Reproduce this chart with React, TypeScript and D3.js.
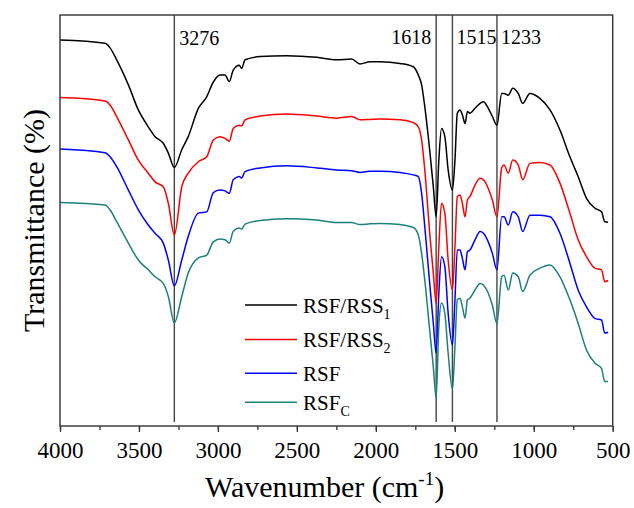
import React, { useRef, useEffect } from 'react'
import * as d3 from 'd3'

// wavenumber grid (cm-1) shared by all spectra
const wavenumbers = [
  4000, 3715, 3683, 3641, 3567, 3504, 3441, 3398, 3346, 3314, 3276, 3229, 3188, 3124, 3071,
  3029, 2987, 2955, 2928, 2903, 2865, 2850, 2828, 2733, 2564, 2374, 2248, 2153, 2100, 2037,
  1974, 1847, 1763, 1731, 1710, 1690, 1657, 1636, 1618, 1601, 1584, 1563, 1542, 1515, 1499,
  1484, 1467, 1452, 1435, 1420, 1404, 1372, 1340, 1319, 1288, 1262, 1233, 1203, 1188, 1161,
  1133, 1098, 1070, 1024, 961, 897, 834, 771, 719, 666, 613, 571, 550, 529,
]

// transmittance (arbitrary units, curves stacked)
const rsfRss1 = [
  93.9, 93.1, 92.0, 89.1, 83.0, 76.9, 72.8, 70.4, 68.8, 66.4, 62.9, 67.2, 70.4, 77.3, 80.1,
  83.7, 85.4, 85.4, 83.8, 86.6, 87.8, 87.0, 89.1, 89.9, 90.1, 89.7, 89.1, 89.3, 88.1, 88.6,
  88.6, 88.2, 87.4, 85.4, 83.0, 77.7, 66.4, 58.2, 50.9, 64.7, 72.4, 70.4, 62.3, 57.4, 64.7,
  76.1, 76.9, 75.7, 73.6, 76.5, 76.1, 77.3, 78.5, 78.9, 77.3, 75.3, 73.2, 80.9, 80.9, 80.5,
  82.2, 80.9, 78.5, 80.9, 79.7, 76.9, 72.0, 65.5, 60.7, 55.4, 53.0, 52.1, 49.7, 49.6,
]
const rsfRss2 = [
  79.9, 79.1, 78.1, 75.3, 69.6, 64.7, 61.5, 59.4, 58.2, 54.2, 46.5, 58.2, 61.5, 64.3, 65.5,
  69.6, 70.4, 70.0, 69.3, 72.4, 73.2, 73.0, 74.5, 75.4, 75.9, 75.4, 74.9, 75.3, 74.5, 74.6,
  74.7, 74.5, 73.8, 72.8, 69.6, 62.3, 46.1, 37.2, 29.9, 43.6, 54.2, 51.8, 40.4, 33.1, 43.6,
  55.8, 56.2, 54.2, 50.9, 55.0, 55.8, 58.6, 60.3, 59.9, 57.8, 55.0, 50.9, 62.8, 63.5, 61.5,
  64.7, 63.5, 59.9, 63.9, 64.1, 63.5, 59.1, 51.8, 45.3, 41.2, 38.4, 38.0, 35.1, 35.4,
]
const rsf = [
  67.4, 66.5, 65.5, 63.1, 57.4, 52.6, 48.9, 46.9, 44.5, 40.4, 34.1, 40.4, 46.1, 51.8, 52.1,
  56.8, 57.4, 57.2, 56.6, 59.9, 60.7, 60.3, 61.9, 62.8, 63.3, 62.8, 62.3, 62.1, 61.7, 62.0,
  62.0, 61.7, 61.1, 60.7, 56.6, 48.5, 33.9, 25.0, 17.7, 32.3, 41.2, 38.8, 27.4, 19.7, 30.7,
  42.8, 42.8, 40.8, 38.0, 42.4, 42.8, 45.3, 47.3, 46.9, 44.8, 42.0, 38.0, 50.9, 50.9, 48.9,
  52.1, 50.9, 47.3, 51.3, 51.3, 50.9, 46.9, 39.6, 33.1, 29.0, 26.2, 25.8, 22.6, 22.8,
]
const rsfC = [
  54.4, 53.8, 52.6, 49.7, 44.5, 40.4, 38.0, 36.3, 34.7, 31.5, 25.1, 31.5, 37.2, 40.9, 41.6,
  44.8, 45.5, 45.3, 44.5, 47.4, 48.2, 47.9, 49.1, 50.0, 50.4, 50.1, 49.5, 49.5, 49.0, 49.2,
  49.3, 49.0, 48.3, 46.5, 42.0, 35.5, 22.6, 14.4, 6.9, 24.2, 29.9, 27.4, 17.7, 9.0, 19.3,
  30.7, 31.1, 29.0, 26.2, 30.7, 31.1, 33.1, 34.7, 34.3, 32.3, 29.4, 24.9, 36.3, 36.7, 33.1,
  37.2, 36.3, 32.7, 36.7, 38.4, 39.2, 36.3, 30.7, 25.0, 18.5, 15.3, 14.0, 10.8, 10.8,
]

const seriesNames = ['RSF/RSS', 'RSF/RSS', 'RSF', 'RSF']
const seriesSubs = ['1', '2', '', 'C']
const seriesColors = ['#000000', '#ff0000', '#0000ff', '#1b807a']
const peakMarks = [3276, 1618, 1515, 1233]
const xTicks = [4000, 3500, 3000, 2500, 2000, 1500, 1000, 500]

const FONT = "'Liberation Serif', 'Times New Roman', serif"

export default function App() {
  const ref = useRef<SVGSVGElement | null>(null)

  useEffect(() => {
    const el = ref.current
    if (!el) return
    document.body.style.margin = '0'

    const width = 634
    const height = 508
    const m = { left: 60, right: 21.3, top: 15, bottom: 82 }
    const svg = d3.select(el)
    svg.selectAll('*').remove()

    const x = d3.scaleLinear().domain([4000, 500]).range([m.left, width - m.right])
    const y = d3.scaleLinear().domain([0, 100]).range([height - m.bottom, m.top])
    const bottom = height - m.bottom

    // peak marker lines
    const markG = svg.append('g')
    peakMarks.forEach((p) => {
      markG.append('line')
        .attr('x1', x(p)).attr('x2', x(p))
        .attr('y1', m.top).attr('y2', bottom - 4)
        .attr('stroke', '#444').attr('stroke-width', 1.4)
    })

    const series = [rsfRss1, rsfRss2, rsf, rsfC]
    const line = d3.line<number>()
      .x((_, i) => x(wavenumbers[i]))
      .y((d) => y(d))
      .curve(d3.curveMonotoneX)

    series.forEach((s, k) => {
      svg.append('path')
        .attr('d', line(s) as string)
        .attr('fill', 'none')
        .attr('stroke', seriesColors[k])
        .attr('stroke-width', 1.5)
        .attr('stroke-linejoin', 'round')
    })

    // frame
    svg.append('rect')
      .attr('x', m.left).attr('y', m.top)
      .attr('width', width - m.right - m.left).attr('height', bottom - m.top)
      .attr('fill', 'none').attr('stroke', '#333').attr('stroke-width', 1.4)

    // axes
    const minor = d3.range(4000, 499, -250)
    svg.append('g')
      .attr('transform', `translate(0,${bottom})`)
      .call(d3.axisBottom(x).tickValues(minor).tickSize(4).tickSizeOuter(0).tickFormat(() => ''))
      .call((g) => g.select('.domain').remove())
      .call((g) => g.selectAll('line').attr('stroke', '#333').attr('stroke-width', 1.3))

    svg.append('g')
      .attr('transform', `translate(0,${bottom})`)
      .call(d3.axisBottom(x).tickValues(xTicks).tickSize(6).tickSizeOuter(0).tickPadding(10).tickFormat(d3.format('d')))
      .call((g) => g.select('.domain').remove())
      .call((g) => g.selectAll('line').attr('stroke', '#333').attr('stroke-width', 1.3))
      .call((g) => g.selectAll('text').attr('font-family', FONT).attr('font-size', 23).attr('fill', '#000'))

    // peak labels
    const lab = svg.append('g').attr('font-family', FONT).attr('font-size', 20).attr('fill', '#000')
    lab.append('text').attr('x', x(3276) + 5).attr('y', 45).text('3276')
    lab.append('text').attr('x', x(1618) - 5).attr('y', 44).attr('text-anchor', 'end').text('1618')
    lab.append('text').attr('x', x(1515) + 4).attr('y', 44).text('1515')
    lab.append('text').attr('x', x(1233) + 4).attr('y', 44).text('1233')

    // axis titles
    const xt = svg.append('text')
      .attr('x', 205).attr('y', 497)
      .attr('font-family', FONT).attr('font-size', 30).attr('fill', '#000')
    xt.append('tspan').text('Wavenumber (cm')
    xt.append('tspan').attr('font-size', 19).attr('dy', -12).text('-1')
    xt.append('tspan').attr('dy', 12).text(')')

    svg.append('text')
      .attr('transform', `translate(44,${(m.top + bottom) / 2}) rotate(-90)`)
      .attr('text-anchor', 'middle')
      .attr('font-family', FONT).attr('font-size', 30).attr('fill', '#000')
      .text('Transmittance (%)')

    // legend
    const legY = [305, 339.5, 373.3, 402.3]
    const leg = svg.append('g')
    seriesNames.forEach((n, k) => {
      leg.append('line')
        .attr('x1', 245).attr('x2', 297)
        .attr('y1', legY[k]).attr('y2', legY[k])
        .attr('stroke', seriesColors[k]).attr('stroke-width', 1.6)
      const t = leg.append('text')
        .attr('x', 303).attr('y', legY[k] + 7.5)
        .attr('font-family', FONT).attr('font-size', 21).attr('fill', '#000')
      t.append('tspan').text(n)
      if (seriesSubs[k]) {
        t.append('tspan').attr('font-size', 14).attr('dy', 6).text(seriesSubs[k])
      }
    })
  }, [])

  return <svg ref={ref} width={634} height={508} style={{ display: 'block', background: '#fff' }} />
}
